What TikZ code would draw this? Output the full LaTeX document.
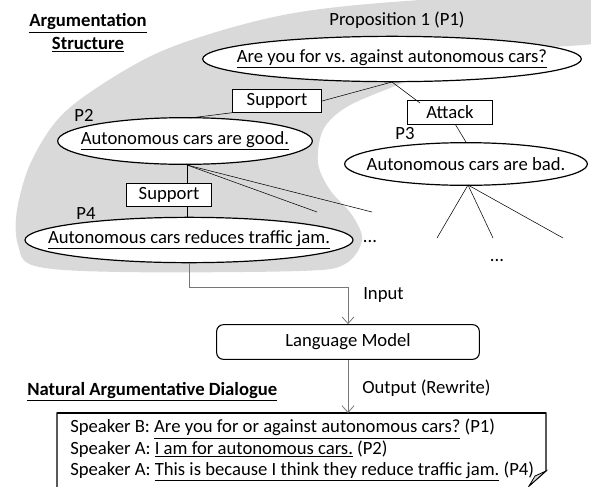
\documentclass[tikz,border=0pt]{standalone}
\usepackage{fontspec}
\setmainfont{Carlito}
\usetikzlibrary{shapes.geometric,arrows.meta}

\definecolor{blobgray}{RGB}{217,217,217}
\definecolor{flowgray}{RGB}{118,118,118}

\tikzset{
  prop/.style={ellipse, draw, line width=0.9pt, fill=white, inner sep=0pt},
  rel/.style={rectangle, draw, line width=0.6pt, fill=white, inner sep=0pt},
  plain/.style={inner sep=0pt},
  edge/.style={line width=0.4pt},
  flow/.style={draw=flowgray, line width=0.6pt,
    -{Straight Barb[length=5pt,width=9pt]}},
}

\begin{document}
\begin{tikzpicture}[x=0.75pt, y=-0.75pt, font=\fontsize{14}{17}\selectfont]
  \useasboundingbox (0,0) rectangle (591,486);

  % shaded argument tree
  \begin{scope}
    \clip (0,0) rectangle (591,486);
    \fill[blobgray] plot[smooth cycle, tension=0.55] coordinates {
      (620,-10) (420,0) (300,12) (213,33) (143,60) (67,110) (32,160)
      (17,210) (18,245) (35,266) (120,272) (300,271) (345,264) (362,240)
      (352,215) (330,190) (318,163) (323,130) (345,108) (385,90) (440,70)
      (520,50) (620,38)};
  \end{scope}

  \node[plain, align=center, font=\fontsize{14}{17}\selectfont\bfseries] (title) at (88,33)
    {\underline{Argumentation}\\\underline{Structure}};

  \node[plain] (p1lbl) at (397,20) {Proposition 1 (P1)};
  \node[prop, minimum width=284pt, minimum height=34pt] (p1) at (392,59) {};
  \node[plain] (p1txt) at (p1) {\underline{Are you for vs.\ against autonomous cars?}};

  \node[rel, minimum width=67pt, minimum height=17pt] (sup1) at (277,101) {Support};
  \node[rel, minimum width=64pt, minimum height=18pt] (att) at (450,112) {Attack};

  \node[prop, minimum width=191pt, minimum height=35pt] (p2) at (185,141) {};
  \node[plain] (p2txt) at (p2) {\underline{Autonomous cars are good.}};
  \node[plain] (p2lbl) at (84,115) {P2};

  \node[prop, minimum width=182pt, minimum height=32pt] (p3) at (466,164) {};
  \node[plain] (p3txt) at (p3) {Autonomous cars are bad.};
  \node[plain] (p3lbl) at (405,134) {P3};

  \node[rel, minimum width=64pt, minimum height=17pt] (sup2) at (169,195) {Support};

  \node[prop, minimum width=246pt, minimum height=34pt] (p4) at (189,240) {};
  \node[plain] (p4txt) at (p4) {\underline{Autonomous cars reduces traffic jam.}};
  \node[plain] (p4lbl) at (86,213) {P4};

  \node[plain] (dots1) at (370,242) {...};
  \node[plain] (dots2) at (497,261) {...};

  % open branches
  \coordinate (b1) at (317,212);
  \coordinate (b2) at (372,212);
  \coordinate (c1) at (437,238);
  \coordinate (c2) at (493,238);
  \coordinate (c3) at (563,238);
  \coordinate (p1foot) at (392,82);
  \coordinate (p2foot) at (187,165);
  \coordinate (p3foot) at (468,185);

  \draw[edge] (sup1.south west) -- (190,118);
  \draw[edge] (sup1.east) -- (p1foot);
  \draw[edge] (p1foot) -- (420,103);
  \draw[edge] ([xshift=4pt]att.south) -- (p3.north);
  \draw[edge] (p2foot) -- (p2foot |- sup2.north);
  \draw[edge] (p2foot |- sup2.south) -- (p2foot |- p4.north);
  \draw[edge] (p2foot) -- (b1);
  \draw[edge] (p2foot) -- (b2);
  \draw[edge] (p3foot) -- (c1);
  \draw[edge] (p3foot) -- (c2);
  \draw[edge] (p3foot) -- (c3);

  % model
  \node[draw, rounded corners=5pt, line width=0.8pt, minimum width=197pt,
    minimum height=26pt] (lm) at (348,342) {Language Model};
  \coordinate (p4foot) at (189,263);
  \coordinate (bend) at (189,287);
  \draw[flow] (p4foot) -- (bend) -- (bend -| lm.north) -- (lm.north);
  \node[plain, anchor=west] (inlbl) at (363,295) {Input};

  \node[plain, anchor=west, font=\fontsize{14}{17}\selectfont\bfseries] (title3) at (27,392)
    {\underline{Natural Argumentative Dialogue}};

  % dialogue sheet with folded corner
  \coordinate (dtl) at (57,413);
  \coordinate (dtr) at (546,413);
  \coordinate (dbl) at (57,490);
  \coordinate (dcr) at (546,471);
  \coordinate (dcb) at (529,486);
  \fill[white] (dbl) -- (dtl) -- (dtr) -- (dcr) -- (dcb) -- (529,490) -- cycle;
  \draw[line width=0.8pt] (dbl) -- (dtl) -- (dtr) -- (dcr) -- (dcb);
  \draw[line width=1.4pt] (dtl) -- (dtr);
  \filldraw[fill=blobgray, line width=0.6pt] (dcb) -- (dcr) -- (535,476) -- cycle;

  \draw[flow] (lm.south) -- (lm.south |- dtl);
  \node[plain, anchor=west] (outlbl) at (362,388) {Output (Rewrite)};

  \node[plain, anchor=north west, align=left,
    font=\fontsize{14}{16}\selectfont] (dlg) at (70,419)
    {Speaker B: \underline{Are you for or against autonomous cars?} (P1)\\
     Speaker A: \underline{I am for autonomous cars.} (P2)\\
     Speaker A: \underline{This is because I think they reduce traffic jam.} (P4)};
\end{tikzpicture}
\end{document}
